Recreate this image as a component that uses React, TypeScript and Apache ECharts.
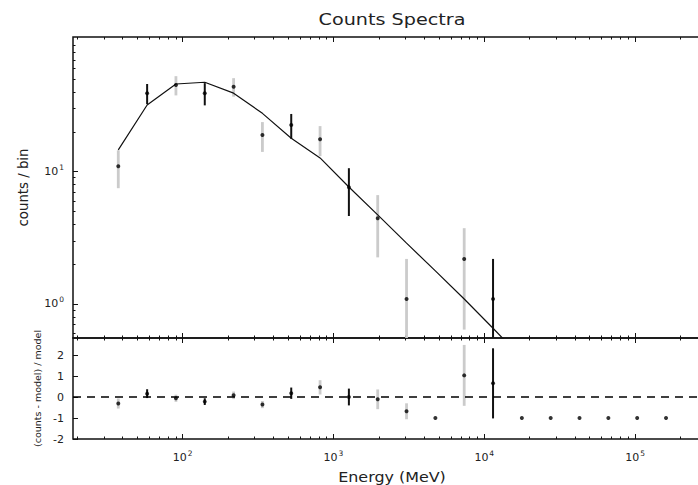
import React, { useEffect, useRef } from "react";
import * as echarts from "echarts";

// ---- data ----
const energyMeV = [37.4, 58.1, 90.2, 140.1, 217.6, 337.9, 524.7, 814.9, 1265.5, 1965.3, 3052, 4740, 7362, 11435, 17759, 27581, 42829, 66533, 103330, 160480];
const counts = [11.0, 39.2, 45.2, 39.2, 43.9, 18.9, 22.5, 17.6, 7.62, 4.45, 1.09, 0, 2.19, 1.09, 0, 0, 0, 0, 0, 0];
const countErr = [3.5, 6.8, 7.5, 7.5, 7.0, 4.8, 4.8, 4.5, 3.0, 2.2, 1.1, 0, 1.55, 1.1, 0, 0, 0, 0, 0, 0];
const modelCounts = [14.6, 31.9, 46.0, 47.4, 39.2, 27.6, 17.9, 12.7, 7.66, 4.71, 2.88, 1.78, 1.09, 0.655, 0.39, 0.24, 0.15, 0.092, 0.056, 0.034];
const residuals = [-0.31, 0.16, -0.06, -0.22, 0.08, -0.36, 0.18, 0.46, 0.0, -0.11, -0.68, -1.0, 1.03, 0.65, -1.0, -1.0, -1.0, -1.0, -1.0, -1.0];
const residualErr = [0.24, 0.21, 0.17, 0.16, 0.18, 0.17, 0.27, 0.34, 0.4, 0.47, 0.38, 0, 1.45, 1.67, 0, 0, 0, 0, 0, 0];
const barShade = [1, 0, 1, 0, 1, 1, 0, 1, 0, 1, 1, 0, 1, 0, 0, 0, 0, 0, 0, 0]; // 1 = light grey, 0 = black

const xTickEnergies = [100, 1000, 10000, 100000];
const yTickCounts = [1, 10];
const residualTicks = [-2, -1, 0, 1, 2];
const minorMultipliers = [2, 3, 4, 5, 6, 7, 8, 9];
const X_RANGE = [18.73, 319000];
const COUNT_RANGE = [0.553, 104.2];
const RESID_RANGE = [-2, 2.81];

const TITLE = "Counts Spectra";
const X_NAME = "Energy (MeV)";
const Y_NAME = "counts / bin";
const RESID_NAME = "(counts - model) / model";

const FONT = "DejaVu Sans";
const L = Math.log10;

function minorTicks(range: number[]) {
  const out: number[] = [];
  for (let d = -3; d <= 7; d++) {
    for (const m of minorMultipliers) {
      const v = m * Math.pow(10, d);
      if (v > range[0] && v < range[1]) out.push(L(v));
    }
  }
  return out;
}

export default function App() {
  const ref = useRef<HTMLDivElement>(null);
  useEffect(() => {
    if (!ref.current) return;
    const chart = echarts.init(ref.current, undefined, { renderer: "svg" });

    const xMin = L(X_RANGE[0]);
    const xMax = L(X_RANGE[1]);
    const yMin = L(COUNT_RANGE[0]);
    const yMax = L(COUNT_RANGE[1]);
    const xMajor = xTickEnergies.map(L);
    const xMinor = minorTicks(X_RANGE);
    const yMajor = yTickCounts.map(L);
    const yMinor = minorTicks(COUNT_RANGE);

    const sup = {
      b: { fontSize: 11, fontFamily: FONT, color: "#222" },
      s: { fontSize: 7.5, fontFamily: FONT, color: "#222", padding: [0, 0, 8, 1] },
    };
    const powLabel = (v: number) => `{b|10}{s|${Math.round(v)}}`;

    const xAx = (gridIndex: number, position: string, values: number[], len: number, labels: boolean) => ({
      type: "value",
      gridIndex,
      position,
      min: xMin,
      max: xMax,
      axisLine: { show: false, onZero: false },
      splitLine: { show: false },
      axisTick: { show: true, inside: true, length: len, customValues: values, lineStyle: { color: "#111", width: 1 } },
      axisLabel: labels
        ? { show: true, customValues: values, formatter: powLabel, rich: sup, margin: 10 }
        : { show: false },
    });

    const yAx = (gridIndex: number, position: string, min: number, max: number, values: number[], len: number, labelFmt: any, name?: string, nameSize?: number, nameGap?: number) => ({
      type: "value",
      gridIndex,
      position,
      min,
      max,
      axisLine: { show: false, onZero: false },
      splitLine: { show: false },
      axisTick: { show: true, inside: true, length: len, customValues: values, lineStyle: { color: "#111", width: 1 } },
      axisLabel: labelFmt
        ? { show: true, customValues: values, formatter: labelFmt, rich: sup, margin: 9, fontFamily: FONT, fontSize: 11, color: "#222" }
        : { show: false },
      name: name || "",
      nameLocation: "middle",
      nameRotate: 90,
      nameGap: nameGap || 40,
      nameTextStyle: { fontFamily: FONT, fontSize: nameSize || 12, color: "#222" },
    });

    // top panel data
    const topPoints: number[][] = [];
    const topBars: number[][] = [];
    energyMeV.forEach((e, i) => {
      if (counts[i] > 0) {
        topPoints.push([L(e), L(counts[i])]);
        if (countErr[i] > 0) {
          const lo = counts[i] - countErr[i];
          topBars.push([L(e), lo > 0 ? L(lo) : yMin - 1, L(counts[i] + countErr[i]), barShade[i]]);
        }
      }
    });
    const modelLine = energyMeV.map((e, i) => [L(e), L(modelCounts[i])]);
    const residPoints = energyMeV.map((e, i) => [L(e), residuals[i]]);
    const residBars: number[][] = [];
    energyMeV.forEach((e, i) => {
      if (residualErr[i] > 0) residBars.push([L(e), residuals[i] - residualErr[i], residuals[i] + residualErr[i], barShade[i]]);
    });

    const errorBars = (xi: number, yi: number, data: number[][]) => ({
      type: "custom",
      xAxisIndex: xi,
      yAxisIndex: yi,
      clip: true,
      silent: true,
      z: 2,
      data,
      renderItem: (_p: any, api: any) => {
        const a = api.coord([api.value(0), api.value(1)]);
        const b = api.coord([api.value(0), api.value(2)]);
        const grey = api.value(3) === 1;
        return {
          type: "line",
          shape: { x1: a[0], y1: a[1], x2: b[0], y2: b[1] },
          style: { stroke: grey ? "#cbcbcb" : "#111", lineWidth: grey ? 2.8 : 2 },
        };
      },
    });

    chart.setOption({
      animation: false,
      backgroundColor: "#fff",
      grid: [
        { left: 73, top: 37, width: 638, height: 301, show: true, borderColor: "#111", borderWidth: 1.5, backgroundColor: "transparent" },
        { left: 73, top: 338, width: 638, height: 101, show: true, borderColor: "#111", borderWidth: 1.5, backgroundColor: "transparent" },
      ],
      graphic: [
        {
          type: "text",
          x: 392,
          y: 20,
          scaleX: 1.2,
          style: { text: TITLE, fontFamily: FONT, fontSize: 16, fill: "#222", textAlign: "center", textVerticalAlign: "middle" },
        },
        {
          type: "text",
          x: 392,
          y: 477,
          scaleX: 1.18,
          style: { text: X_NAME, fontFamily: FONT, fontSize: 13.5, fill: "#222", textAlign: "center", textVerticalAlign: "middle" },
        },
      ],
      xAxis: [
        xAx(0, "bottom", xMajor, 5, false),
        xAx(0, "top", xMajor, 5, false),
        xAx(0, "bottom", xMinor, 2.5, false),
        xAx(0, "top", xMinor, 2.5, false),
        xAx(1, "bottom", xMajor, 5, true),
        xAx(1, "top", xMajor, 5, false),
        xAx(1, "bottom", xMinor, 2.5, false),
        xAx(1, "top", xMinor, 2.5, false),
      ],
      yAxis: [
        yAx(0, "left", yMin, yMax, yMajor, 5, powLabel, Y_NAME, 13.3, 43),
        yAx(0, "right", yMin, yMax, yMajor, 5, null),
        yAx(0, "left", yMin, yMax, yMinor, 2.5, null),
        yAx(0, "right", yMin, yMax, yMinor, 2.5, null),
        yAx(1, "left", RESID_RANGE[0], RESID_RANGE[1], residualTicks, 5, (v: number) => `{b|${Math.round(v)}}`, RESID_NAME, 9.5, 28),
        yAx(1, "right", RESID_RANGE[0], RESID_RANGE[1], residualTicks, 5, null),
      ],
      series: [
        errorBars(0, 0, topBars),
        {
          type: "line",
          xAxisIndex: 0,
          yAxisIndex: 0,
          data: modelLine,
          showSymbol: false,
          clip: true,
          z: 3,
          silent: true,
          lineStyle: { color: "#111", width: 1.2 },
        },
        {
          type: "scatter",
          xAxisIndex: 0,
          yAxisIndex: 0,
          data: topPoints,
          symbol: "circle",
          symbolSize: 4,
          z: 4,
          silent: true,
          itemStyle: { color: "#000" },
        },
        errorBars(4, 4, residBars),
        {
          type: "scatter",
          xAxisIndex: 4,
          yAxisIndex: 4,
          data: residPoints,
          symbol: "circle",
          symbolSize: 4,
          z: 4,
          silent: true,
          itemStyle: { color: "#000" },
          markLine: {
            silent: true,
            symbol: "none",
            label: { show: false },
            lineStyle: { type: [8, 6], color: "#000", width: 1.5 },
            data: [{ yAxis: 0 }],
          },
        },
      ],
    });
    return () => chart.dispose();
  }, []);

  return (
    <div style={{ position: "fixed", left: 0, top: 0, width: 698, height: 485, overflow: "hidden", background: "#fff" }}>
      <div ref={ref} style={{ width: 720, height: 485 }} />
    </div>
  );
}
